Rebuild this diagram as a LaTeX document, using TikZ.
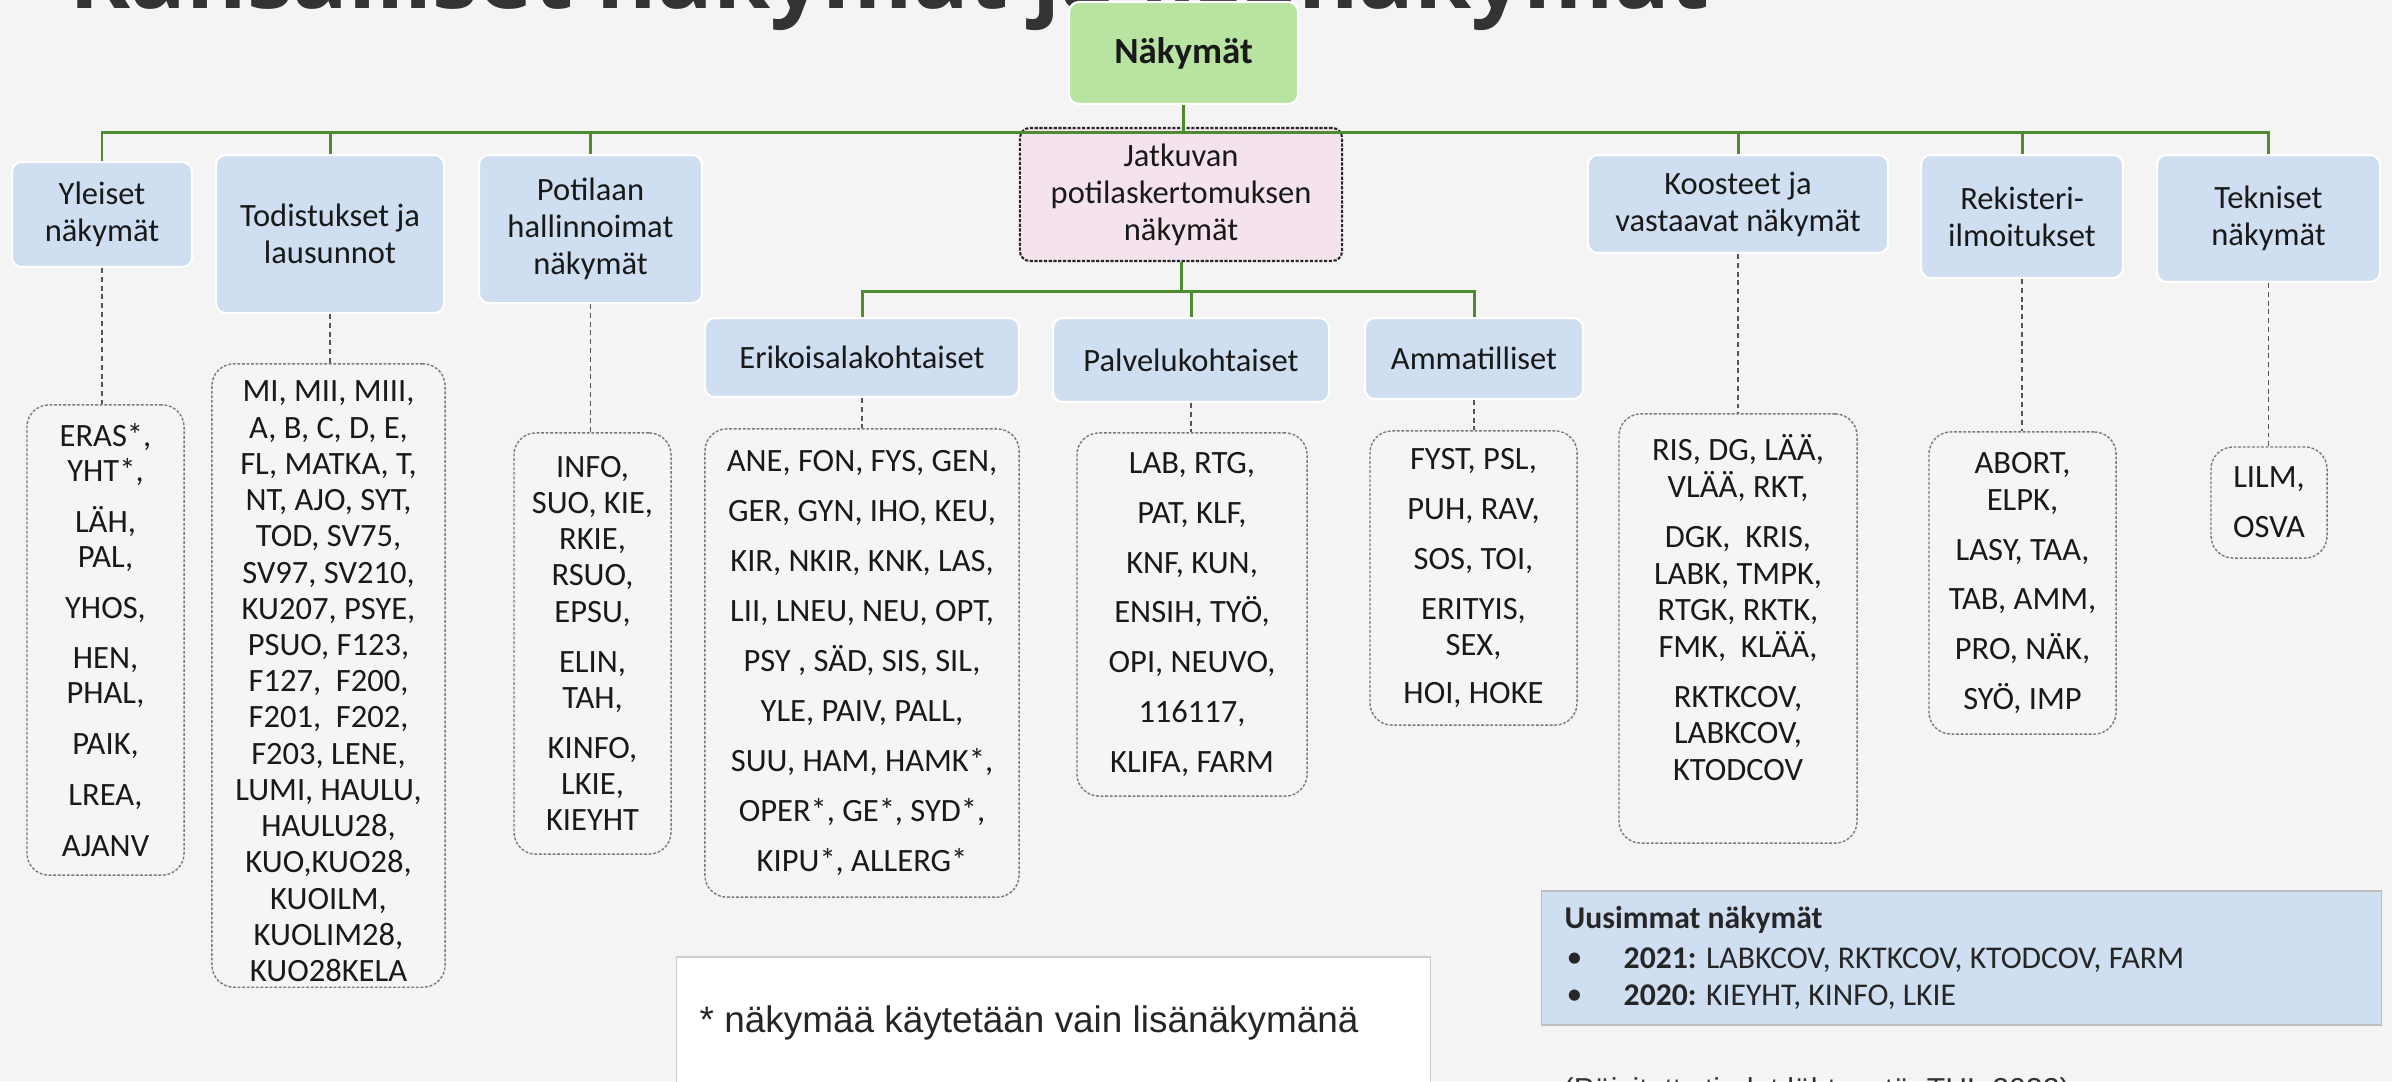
\documentclass[tikz,border=0pt]{standalone}
\usepackage{fontspec}
\setmainfont{Carlito}
\newfontfamily\titlefont{Open Sans}
\newfontfamily\arialfont{Liberation Sans}
\definecolor{bg}{HTML}{F4F4F4}
\definecolor{catblue}{HTML}{CFDEF1}
\definecolor{nakgreen}{HTML}{B8E3A1}
\definecolor{jatpink}{HTML}{F4E2EC}
\definecolor{lgreen}{HTML}{4E8B30}
\definecolor{dgray}{HTML}{555555}
\definecolor{leafline}{HTML}{7A7A7A}
\definecolor{leaffill}{HTML}{F5F5F5}
\definecolor{titlegray}{HTML}{333333}
\begin{document}
\begin{tikzpicture}[x=0.01cm,y=-0.01cm,
  catbox/.style={rectangle, rounded corners=0.1cm, fill=catblue, draw=white, line width=0.6pt,
    align=center, font=\fontsize{9.25}{10.5}\selectfont, text=black!90, inner sep=2pt},
  leafbox/.style={rectangle, rounded corners=0.22cm, fill=leaffill, draw=leafline, line width=0.4pt,
    dash pattern=on 0.8pt off 0.5pt, align=center, text=black!90, inner sep=2pt},
  gline/.style={draw=lgreen, line width=0.85pt},
  dline/.style={draw=dgray, line width=0.5pt, dash pattern=on 1.4pt off 1.1pt},
  lf/.style={font=\fontsize{9.25}{#1}\selectfont}
]
\useasboundingbox (0,0) rectangle (2392,1081);
\clip (0,0) rectangle (2392,1081);
\fill[bg] (0,0) rectangle (2392,1081);

% title (cut off at the top)
\node[anchor=base west, inner sep=0pt, text=titlegray, font=\titlefont\bfseries\fontsize{26.2}{30}\selectfont] (title) at (69,8) {Kansalliset näkymät ja lisänäkymät};

% root
\node[catbox, fill=nakgreen, minimum width=2.29cm, minimum height=1.02cm, font=\bfseries\fontsize{10.5}{12}\selectfont] (nak) at (1183.5,53) {Näkymät};

% top-level categories
\node[catbox, minimum width=1.80cm, minimum height=1.05cm] (yl) at (102,214.5) {Yleiset\\näkymät};
\node[catbox, minimum width=2.28cm, minimum height=1.58cm] (tod) at (330,234) {Todistukset ja\\lausunnot};
\node[catbox, minimum width=2.23cm, minimum height=1.48cm] (pot) at (590.5,229) {Potilaan\\hallinnoimat\\näkymät};
\node[catbox, fill=jatpink, draw=black!85, line width=0.6pt, dash pattern=on 0.9pt off 0.45pt,
  minimum width=3.22cm, minimum height=1.33cm] (jat) at (1181,194.5) {Jatkuvan\\potilaskertomuksen\\näkymät};
\node[catbox, minimum width=3.00cm, minimum height=0.98cm] (koo) at (1738,204) {Koosteet ja\\vastaavat näkymät};
\node[catbox, minimum width=2.02cm, minimum height=1.23cm] (rek) at (2022,216.5) {Rekisteri-\\ilmoitukset};
\node[catbox, minimum width=2.23cm, minimum height=1.27cm] (tek) at (2268.5,218.5) {Tekniset\\näkymät};

% sub-categories
\node[catbox, minimum width=3.14cm, minimum height=0.79cm] (eri) at (862,357.5) {Erikoisalakohtaiset};
\node[catbox, minimum width=2.76cm, minimum height=0.84cm] (pal) at (1191,360) {Palvelukohtaiset};
\node[catbox, minimum width=2.18cm, minimum height=0.81cm] (amm) at (1474,358.5) {Ammatilliset};

% leaf boxes
\node[leafbox, lf=9.96pt, minimum width=1.57cm, minimum height=4.70cm] (ylL) at (105.5,640)
 {ERAS*,\\YHT*,\\[4.5pt]LÄH,\\PAL,\\[4.5pt]YHOS,\\[4.5pt]HEN,\\PHAL,\\[4.5pt]PAIK,\\[4.5pt]LREA,\\[4.5pt]AJANV};
\node[leafbox, lf=10.3pt, inner ysep=0pt, minimum width=2.33cm, minimum height=6.23cm] (todL) at (328.5,675.5)
 {\mbox{}\\[-1pt]MI, MII, MIII,\\A, B, C, D, E,\\FL, MATKA, T,\\NT, AJO, SYT,\\TOD, SV75,\\SV97, SV210,\\KU207, PSYE,\\PSUO, F123,\\F127,\ \ F200,\\F201,\ \ F202,\\F203, LENE,\\LUMI, HAULU,\\HAULU28,\\KUO,KUO28,\\KUOILM,\\KUOLIM28,\\KUO28KELA};
\node[leafbox, lf=10.24pt, minimum width=1.57cm, minimum height=4.21cm] (potL) at (592.5,643.5)
 {INFO,\\SUO, KIE,\\RKIE,\\RSUO,\\EPSU,\\[4pt]ELIN,\\TAH,\\[4pt]KINFO,\\LKIE,\\KIEYHT};
\node[leafbox, lf=14.2pt, minimum width=3.14cm, minimum height=4.68cm] (eriL) at (862,663)
 {ANE, FON, FYS, GEN,\\GER, GYN, IHO, KEU,\\KIR, NKIR, KNK, LAS,\\LII, LNEU, NEU, OPT,\\PSY , SÄD, SIS, SIL,\\YLE, PAIV, PALL,\\SUU, HAM, HAMK*,\\OPER*, GE*, SYD*,\\KIPU*, ALLERG*};
\node[leafbox, lf=14.2pt, minimum width=2.30cm, minimum height=3.63cm] (palL) at (1192,614.5)
 {LAB, RTG,\\PAT, KLF,\\KNF, KUN,\\ENSIH, TYÖ,\\OPI, NEUVO,\\116117,\\KLIFA, FARM};
\node[leafbox, lf=10.5pt, minimum width=2.07cm, minimum height=2.94cm] (ammL) at (1473.5,578)
 {FYST, PSL,\\[3.7pt]PUH, RAV,\\[3.7pt]SOS, TOI,\\[3.7pt]ERITYIS,\\SEX,\\[3.1pt]HOI, HOKE};
\node[leafbox, lf=10.4pt, minimum width=2.38cm, minimum height=4.29cm] (kooL) at (1738,628.5)
 {RIS, DG, LÄÄ,\\VLÄÄ, RKT,\\[3.8pt]DGK,\ \ KRIS,\\LABK, TMPK,\\RTGK, RKTK,\\FMK,\ \ KLÄÄ,\\[3.8pt]RKTKCOV,\\LABKCOV,\\KTODCOV\\[1.5pt]\mbox{}};
\node[leafbox, lf=10.5pt, minimum width=1.87cm, minimum height=3.02cm] (rekL) at (2022.5,583)
 {ABORT,\\ELPK,\\[3.7pt]LASY, TAA,\\[3.7pt]TAB, AMM,\\[3.7pt]PRO, NÄK,\\[3.7pt]SYÖ, IMP};
\node[leafbox, lf=10.5pt, minimum width=1.16cm, minimum height=1.11cm] (tekL) at (2269,502.5)
 {LILM,\\[3.7pt]OSVA};

% green connectors
\draw[gline] (nak.south) -- ++(0,27) -| (yl.north);
\draw[gline] (nak.south) -- ++(0,27) -| (tod.north);
\draw[gline] (nak.south) -- ++(0,27) -| (pot.north);
\draw[gline] (nak.south) -- (nak.south |- jat.north);
\draw[gline] (nak.south) -- ++(0,27) -| (koo.north);
\draw[gline] (nak.south) -- ++(0,27) -| (rek.north);
\draw[gline] (nak.south) -- ++(0,27) -| (tek.north);
\draw[gline] (jat.south) -- ++(0,29) -| (eri.north);
\draw[gline] (jat.south) -- ++(0,29) -| (pal.north);
\draw[gline] (jat.south) -- ++(0,29) -| (amm.north);

% dashed connectors
\draw[dline] (yl.south) -- (yl.south |- ylL.north);
\draw[dline] (tod.south) -- (tod.south |- todL.north);
\draw[dline] (pot.south) -- (pot.south |- potL.north);
\draw[dline] (eri.south) -- (eri.south |- eriL.north);
\draw[dline] (pal.south) -- (pal.south |- palL.north);
\draw[dline] (amm.south) -- (amm.south |- ammL.north);
\draw[dline] (koo.south) -- (koo.south |- kooL.north);
\draw[dline] (rek.south) -- (rek.south |- rekL.north);
\draw[dline] (tek.south) -- (tek.south |- tekL.north);

% newest views box
\node[rectangle, fill=catblue, draw=black!25, line width=0.4pt, minimum width=8.39cm, minimum height=1.34cm, inner sep=0pt] (uus) at (1961.5,958) {};
\node[anchor=west, inner sep=0pt, font=\bfseries\fontsize{9}{10}\selectfont, text=black!85] (uusH) at (1564,920) {Uusimmat näkymät};
\node[anchor=west, inner sep=0pt, font=\fontsize{9}{10}\selectfont, text=black!85] (b1) at (1566,960) {•};
\node[anchor=west, inner sep=0pt, font=\fontsize{9}{10}\selectfont, text=black!85] (t1) at (1623,960) {\textbf{2021:} LABKCOV, RKTKCOV, KTODCOV, FARM};
\node[anchor=west, inner sep=0pt, font=\fontsize{9}{10}\selectfont, text=black!85] (b2) at (1566,997) {•};
\node[anchor=west, inner sep=0pt, font=\fontsize{9}{10}\selectfont, text=black!85] (t2) at (1623,997) {\textbf{2020:} KIEYHT, KINFO, LKIE};

% footnote box
\node[rectangle, fill=white, draw=black!20, line width=0.4pt, minimum width=7.53cm, minimum height=1.40cm, inner sep=0pt] (foot) at (1053.5,1027) {};
\node[anchor=west, inner sep=0pt, font=\arialfont\fontsize{10.5}{12}\selectfont, text=black!85] (footT) at (699,1023) {* näkymää käytetään vain lisänäkymänä};

% source line (cut off at the bottom)
\node[anchor=north west, inner sep=0pt, font=\arialfont\fontsize{8.6}{10}\selectfont, text=black!80] (src) at (1563,1077) {(Päivitetty tiedot lähteestä, THL 2022)};
\end{tikzpicture}
\end{document}
